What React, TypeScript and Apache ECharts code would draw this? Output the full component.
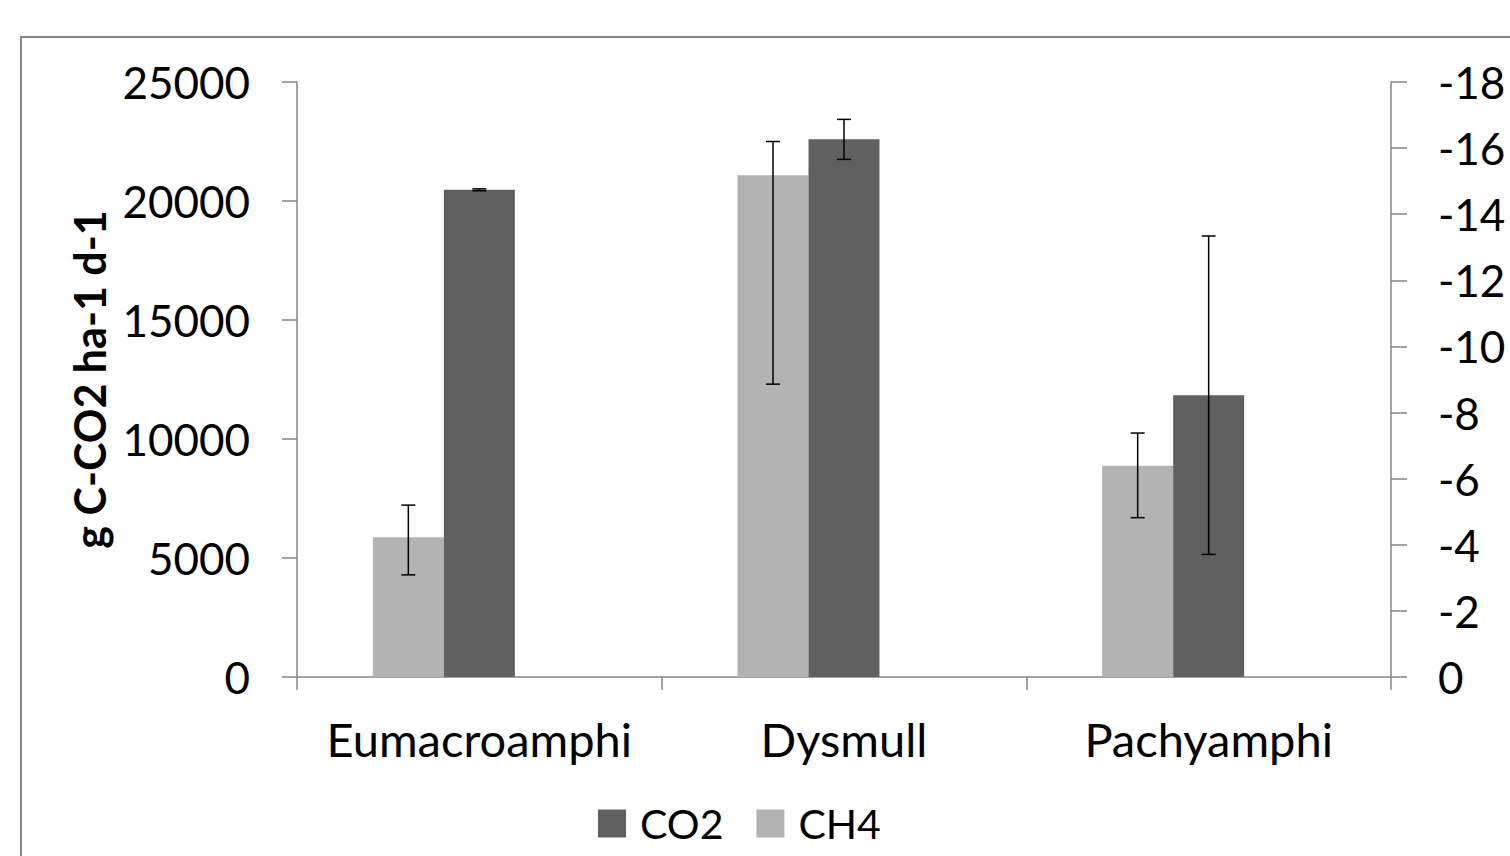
import React, { useEffect, useRef } from "react";
import * as echarts from "echarts";

const categories = ["Eumacroamphi", "Dysmull", "Pachyamphi"];
const co2Mean = [20470, 22590, 11840];
const co2Err = [40, 840, 6690];
const ch4Mean = [-4.23, -15.18, -6.39];
const ch4Low = [-3.09, -8.86, -4.82];
const ch4High = [-5.2, -16.2, -7.38];
const leftTicks = { min: 0, max: 25000, interval: 5000 };
const rightTicks = { min: -18, max: 0, interval: 2 };

const FONT = "Lato";
const BAR_W = 71;
const AXIS_COLOR = "#868686";

function errorRenderer(offset: number) {
  return (params: any, api: any) => {
    const x = api.value(0);
    const p1 = api.coord([x, api.value(1)]);
    const p2 = api.coord([x, api.value(2)]);
    const cx = p1[0] + offset;
    const cap = 7;
    const style = { stroke: "#000", lineWidth: 1.5 };
    return {
      type: "group",
      children: [
        { type: "line", shape: { x1: cx, y1: p1[1], x2: cx, y2: p2[1] }, style },
        { type: "line", shape: { x1: cx - cap, y1: p1[1], x2: cx + cap, y2: p1[1] }, style },
        { type: "line", shape: { x1: cx - cap, y1: p2[1], x2: cx + cap, y2: p2[1] }, style },
      ],
    };
  };
}

export default function App() {
  const ref = useRef<HTMLDivElement>(null);
  useEffect(() => {
    document.body.style.margin = "0";
    const chart = echarts.init(ref.current!, null, { renderer: "svg" });
    const co2Err3 = categories.map((_, i) => [i, co2Mean[i] - co2Err[i], co2Mean[i] + co2Err[i]]);
    const ch4Err3 = categories.map((_, i) => [i, ch4Low[i], ch4High[i]]);
    chart.setOption({
      animation: false,
      backgroundColor: "#fff",
      textStyle: { fontFamily: FONT },
      graphic: [
        {
          type: "rect",
          shape: { x: 21, y: 37, width: 1700, height: 1000 },
          style: { fill: "none", stroke: AXIS_COLOR, lineWidth: 2 },
          silent: true,
        },
      ],
      grid: { left: 297, right: 119, top: 82, bottom: 179 },
      legend: {
        data: ["CO2", "CH4"],
        left: 598,
        top: 803,
        padding: 0,
        itemWidth: 28,
        itemHeight: 28,
        itemGap: 33,
        icon: "rect",
        textStyle: { fontSize: 41, color: "#000", fontFamily: FONT, padding: [0, 0, 0, 9] },
      },
      xAxis: {
        type: "category",
        data: categories,
        axisLine: { lineStyle: { color: AXIS_COLOR, width: 1.5 } },
        axisTick: { show: true, length: 13, lineStyle: { color: AXIS_COLOR, width: 1.5 } },
        axisLabel: { fontSize: 47, color: "#000", margin: 38, interval: 0, fontFamily: FONT },
        splitLine: { show: false },
      },
      yAxis: [
        {
          type: "value",
          min: leftTicks.min,
          max: leftTicks.max,
          interval: leftTicks.interval,
          position: "left",
          axisLine: { show: true, lineStyle: { color: AXIS_COLOR, width: 1.5 } },
          axisTick: { show: true, length: 15, lineStyle: { color: AXIS_COLOR, width: 1.5 } },
          axisLabel: {
            fontSize: 44,
            color: "#000",
            margin: 47,
            fontFamily: FONT,
            formatter: (v: number) => String(v),
          },
          splitLine: { show: false },
          name: "g C-CO2 ha-1 d-1",
          nameLocation: "middle",
          nameRotate: 90,
          nameGap: 180,
          nameTextStyle: { fontSize: 43, fontWeight: "bold", color: "#000", fontFamily: FONT },
        },
        {
          type: "value",
          min: rightTicks.min,
          max: rightTicks.max,
          interval: rightTicks.interval,
          inverse: true,
          position: "right",
          axisLine: { show: true, lineStyle: { color: AXIS_COLOR, width: 1.5 } },
          axisTick: { show: true, length: 16, lineStyle: { color: AXIS_COLOR, width: 1.5 } },
          axisLabel: {
            fontSize: 44,
            color: "#000",
            margin: 47,
            fontFamily: FONT,
            formatter: (v: number) => String(v),
          },
          splitLine: { show: false },
        },
      ],
      series: [
        {
          name: "CH4",
          type: "bar",
          yAxisIndex: 1,
          data: ch4Mean,
          barWidth: BAR_W,
          barGap: "0%",
          itemStyle: { color: "#b3b3b3" },
        },
        {
          name: "CO2",
          type: "bar",
          yAxisIndex: 0,
          data: co2Mean,
          barWidth: BAR_W,
          barGap: "0%",
          itemStyle: { color: "#606060" },
        },
        {
          name: "spacer",
          type: "bar",
          yAxisIndex: 0,
          data: categories.map(() => "-"),
          barWidth: BAR_W,
          barGap: "0%",
          itemStyle: { color: "transparent" },
          silent: true,
        },
        {
          name: "CH4 err",
          type: "custom",
          yAxisIndex: 1,
          data: ch4Err3,
          renderItem: errorRenderer(-BAR_W),
          z: 10,
          silent: true,
        },
        {
          name: "CO2 err",
          type: "custom",
          yAxisIndex: 0,
          data: co2Err3,
          renderItem: errorRenderer(0),
          z: 10,
          silent: true,
        },
      ],
    });
    return () => chart.dispose();
  }, []);
  return <div ref={ref} style={{ width: 1510, height: 856 }} />;
}
